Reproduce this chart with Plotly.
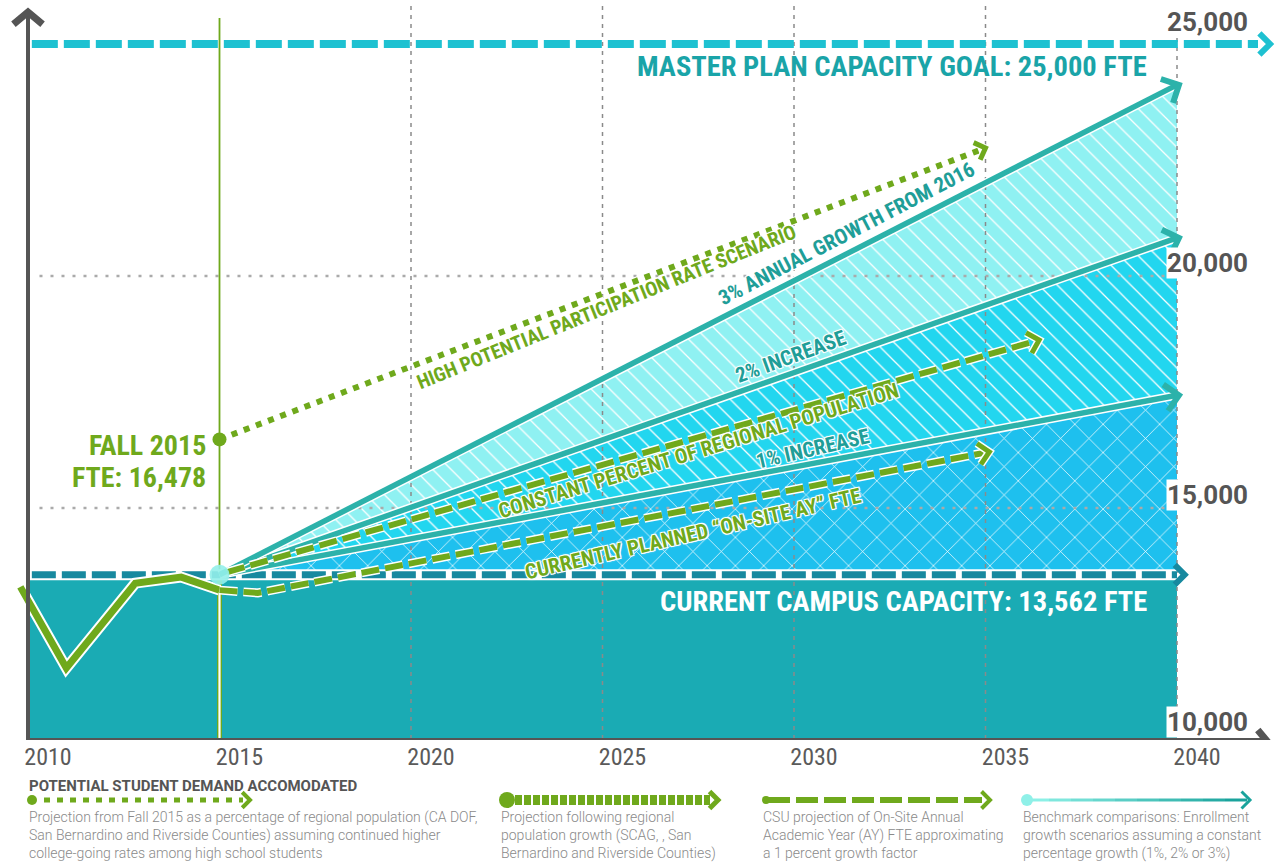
import math
import plotly.graph_objects as go

# ---------------- data ----------------
hist_years = [2009.8, 2011.0, 2012.8, 2014.0, 2015.0]
hist_fte = [13300, 11550, 13380, 13510, 13230]

planned_years = [2015.0, 2016.0, 2035.1]          # CSU projection, on-site AY FTE
planned_fte = [13230, 13170, 16210]

regional_years = [2015.2, 2036.4]                 # constant percent of regional population
regional_fte = [13620, 18620]

high_years = [2015.0, 2035.0]                     # high potential participation rate
high_fte = [16478, 22760]

bench_years = [2015.0, 2040.0]                    # benchmark growth scenarios
bench_1pct = [13562, 17430]
bench_2pct = [13562, 20820]
bench_3pct = [13562, 24120]

capacity_fte = 13562
goal_fte = 25000
fall_2015_fte = 16478

tick_years = [2010, 2015, 2020, 2025, 2030, 2035, 2040]
tick_labels = [str(y) for y in tick_years]
grid_years = [2020, 2025, 2030, 2035, 2040]
ytick_vals = [25000, 20000, 15000, 10000]
ytick_labels = ["25,000", "20,000", "15,000", "10,000"]
grid_fte = [15000, 20000]

# ---------------- geometry helpers ----------------
W, H = 1287, 864
PLOT_H = 740
X0_PX, PX_PER_YEAR = 28, 38.3
PX_PER_FTE = 0.0464


def X(px):
    return 2010 + (px - X0_PX) / PX_PER_YEAR


def Y(py):
    return 10000 + (PLOT_H - py) / PX_PER_FTE


def to_px(x, y):
    return X0_PX + (x - 2010) * PX_PER_YEAR, PLOT_H - (y - 10000) * PX_PER_FTE


def P(px):
    return px / W


def Q(py):
    return (PLOT_H - py) / PLOT_H


GREEN = "#6fa91c"
TEAL_BASE = "#1aabb4"
CAP_DASH = "#17899f"
GOAL = "#1ec1d1"
GOAL_TXT = "#1aa4a8"
BENCH = "#2cb2aa"
BENCH_TXT = "#1f9e98"
GRAY = "#555555"
NARROW = "Liberation Sans Narrow, Arial Narrow, Roboto Condensed, Roboto, sans-serif"
ROBOTO = "Roboto, Liberation Sans, sans-serif"

fig = go.Figure()


def line(xs, ys, color, width, dash="solid", outline=0):
    if outline:
        fig.add_trace(go.Scatter(x=xs, y=ys, mode="lines", hoverinfo="skip",
                                 line=dict(color="white", width=width + outline, dash=dash)))
    fig.add_trace(go.Scatter(x=xs, y=ys, mode="lines", hoverinfo="skip",
                             line=dict(color=color, width=width, dash=dash)))


def chevron(x_end, y_end, x_prev, y_prev, color, width, arm, spread=45, outline=0):
    px, py = to_px(x_end, y_end)
    qx, qy = to_px(x_prev, y_prev)
    ang = math.atan2(py - qy, px - qx)
    xs, ys = [], []
    for s in (spread, 0, -spread):
        if s == 0:
            xs.append(x_end); ys.append(y_end)
            continue
        a = ang + math.pi + math.radians(s)
        xs.append(X(px + arm * math.cos(a)))
        ys.append(Y(py + arm * math.sin(a)))
    line(xs, ys, color, width, outline=outline)


# ---------------- areas ----------------
fig.add_trace(go.Scatter(x=[2010, 2040], y=[capacity_fte, capacity_fte], mode="lines",
                         line=dict(width=0), fill="tozeroy", fillcolor=TEAL_BASE, hoverinfo="skip"))
fig.add_trace(go.Scatter(x=bench_years, y=[capacity_fte, capacity_fte], mode="lines",
                         line=dict(width=0), hoverinfo="skip"))
fig.add_trace(go.Scatter(x=bench_years, y=bench_1pct, mode="lines", line=dict(width=0),
                         fill="tonexty", fillcolor="#1ec0ee", hoverinfo="skip",
                         fillpattern=dict(shape="x", fgcolor="white", bgcolor="#1ec0ee",
                                          size=20, solidity=0.07, fillmode="replace")))
fig.add_trace(go.Scatter(x=bench_years, y=bench_2pct, mode="lines", line=dict(width=0),
                         fill="tonexty", fillcolor="#22d6ef", hoverinfo="skip",
                         fillpattern=dict(shape="\\", fgcolor="white", bgcolor="#22d6ef",
                                          size=13, solidity=0.1, fillmode="replace")))
fig.add_trace(go.Scatter(x=bench_years, y=bench_3pct, mode="lines", line=dict(width=0),
                         fill="tonexty", fillcolor="#8ff1f2", hoverinfo="skip",
                         fillpattern=dict(shape="\\", fgcolor="white", bgcolor="#8ff1f2",
                                          size=13, solidity=0.1, fillmode="replace")))

# ---------------- grid ----------------
gx, gy = [], []
for g in grid_years:
    gx += [g, g, None]
    gy += [Y(6) if g < 2040 else Y(20), 10000, None]
fig.add_trace(go.Scatter(x=gx, y=gy, mode="lines", hoverinfo="skip",
                         line=dict(color="#8a8a8a", width=1.5, dash="4px,5px")))
hx, hy = [], []
for g in grid_fte:
    hx += [2010.3, 2040, None]
    hy += [g, g, None]
fig.add_trace(go.Scatter(x=hx, y=hy, mode="lines", hoverinfo="skip",
                         line=dict(color="#aaaaaa", width=2.5, dash="3px,8px")))

# ---------------- 2015 marker line ----------------
line([2015, 2015], [Y(18), capacity_fte], GREEN, 1.8)
line([2015, 2015], [capacity_fte, 10000], GREEN, 5)
line([2015, 2015], [13300, 10000], "white", 2.2)

# ---------------- goal & capacity ----------------
line([2010.1, X(1258)], [goal_fte, goal_fte], GOAL, 8, dash="26px,6px")
chevron(X(1270), goal_fte, 2030, goal_fte, GOAL, 6, 15)

line([2010, 2040], [capacity_fte, capacity_fte], "white", 11)
line([2010.1, 2040], [capacity_fte, capacity_fte], CAP_DASH, 7, dash="24px,6px")
chevron(2040.2, capacity_fte, 2030, capacity_fte, CAP_DASH, 6, 14)

# ---------------- benchmark lines ----------------
for vals in (bench_1pct, bench_2pct, bench_3pct):
    line(bench_years, vals, BENCH, 5.5, outline=3)
for vals in (bench_1pct, bench_2pct, bench_3pct):
    chevron(bench_years[-1] + 0.05, vals[-1], bench_years[0], vals[0], BENCH, 6, 19)

# ---------------- green projections ----------------
line(hist_years, hist_fte, GREEN, 7, outline=4)
line(planned_years, planned_fte, GREEN, 6, dash="18px,6px", outline=3)
chevron(planned_years[-1], planned_fte[-1], planned_years[-2], planned_fte[-2], GREEN, 5, 15, outline=3)
line(regional_years, regional_fte, GREEN, 6, dash="18px,6px", outline=3)
chevron(regional_years[-1], regional_fte[-1], regional_years[0], regional_fte[0], GREEN, 5, 15, outline=3)
line(high_years, high_fte, GREEN, 6, dash="6px,7px", outline=2)
chevron(high_years[-1], high_fte[-1], high_years[0], high_fte[0], GREEN, 5, 13, outline=2)
fig.add_trace(go.Scatter(x=[high_years[0]], y=[fall_2015_fte], mode="markers", hoverinfo="skip",
                         marker=dict(color=GREEN, size=14, line=dict(width=0))))
fig.add_trace(go.Scatter(x=[bench_years[0]], y=[capacity_fte], mode="markers", hoverinfo="skip",
                         marker=dict(color="#93efea", size=20, opacity=0.9, line=dict(width=0))))

# ---------------- axes ----------------
line([2010, 2010], [10000, Y(14)], GRAY, 4)
chevron(2010, Y(12), 2010, 15000, GRAY, 7, 19, spread=50)
line([2010, X(1262)], [10000, 10000], GRAY, 4)
chevron(X(1270), 10000 - 100, 2030, 10000 - 100, GRAY, 7, 19, spread=50)

# ---------------- text ----------------
ann = []


def text(x, y, s, size, color, family=NARROW, weight="bold", xanchor="center",
         yanchor="middle", angle=0, xref="x", yref="y", bg=None, halo=False, align="center"):
    f = dict(size=size, color=color, family=family, weight=weight)
    if halo:
        f["shadow"] = "1px 1px 0 #fff, -1px -1px 0 #fff, 1px -1px 0 #fff, -1px 1px 0 #fff, 0 0 3px #fff"
    d = dict(x=x, y=y, xref=xref, yref=yref, text=s, showarrow=False, font=f,
             xanchor=xanchor, yanchor=yanchor, textangle=angle, align=align, borderpad=0)
    if bg:
        d["bgcolor"] = bg
    ann.append(d)


text(X(1148), Y(66), "MASTER PLAN CAPACITY GOAL: 25,000 FTE", 28.5, GOAL_TXT, xanchor="right")
text(X(1148), Y(601), "CURRENT CAMPUS CAPACITY: 13,562 FTE", 28.5, "white", xanchor="right")
text(X(207), Y(445), "FALL 2015", 28, GREEN, xanchor="right")
text(X(207), Y(477), "FTE: 16,478", 28, GREEN, xanchor="right")

ylab_py = [22, 263, 495, 722]
for v, lab, py in zip(ytick_vals, ytick_labels, ylab_py):
    text(X(1166), Y(py), lab, 26, GRAY, family=ROBOTO, xanchor="left", bg="white")

text(X(606), Y(307), "HIGH POTENTIAL PARTICIPATION RATE SCENARIO", 20, GREEN, angle=-22, halo=True)
text(X(846), Y(234), "3% ANNUAL GROWTH FROM 2016", 21, BENCH_TXT, angle=-27.5, halo=True)
text(X(790), Y(357), "2% INCREASE", 21, BENCH_TXT, angle=-20, halo=True)
text(X(698), Y(451), "CONSTANT PERCENT OF REGIONAL POPULATION", 21, GREEN, angle=-17, halo=True)
text(X(812), Y(449), "1% INCREASE", 21, BENCH_TXT, angle=-13, halo=True)
text(X(693), Y(534), "CURRENTLY PLANNED \u201cON-SITE AY\u201d FTE", 21, GREEN, angle=-13, halo=True)

# ---------------- legend (below the plot, paper coordinates) ----------------
text(P(28), Q(786), "POTENTIAL STUDENT DEMAND ACCOMODATED", 15, GRAY, family=ROBOTO,
     xanchor="left", xref="paper", yref="paper")

legend_text = [
    (28, "Projection from Fall 2015 as a percentage of regional population (CA DOF,<br>"
         "San Bernardino and Riverside Counties) assuming continued higher<br>"
         "college-going rates among high school students"),
    (500, "Projection following regional<br>population growth (SCAG, , San<br>"
          "Bernardino and Riverside Counties)"),
    (762, "CSU projection of On-Site Annual<br>Academic Year (AY) FTE approximating<br>"
          "a 1 percent growth factor"),
    (1022, "Benchmark comparisons: Enrollment<br>growth scenarios assuming a constant<br>"
           "percentage growth (1%, 2% or 3%)"),
]
for px, s in legend_text:
    text(P(px), Q(808), s, 14, "#8a8a8a", family=ROBOTO, weight=300, xanchor="left",
         yanchor="top", xref="paper", yref="paper", align="left")

shapes = []


def lg_line(x0, x1, color, width, dash="solid"):
    shapes.append(dict(type="line", xref="paper", yref="paper", x0=P(x0), x1=P(x1),
                       y0=Q(800), y1=Q(800), line=dict(color=color, width=width, dash=dash)))


def lg_dot(cx, r, color):
    shapes.append(dict(type="circle", xref="paper", yref="paper", x0=P(cx - r), x1=P(cx + r),
                       y0=Q(800 + r), y1=Q(800 - r), fillcolor=color, line=dict(width=0)))


def lg_chev(tx, color, arm, width):
    a = arm * math.cos(math.radians(45))
    path = "M {} {} L {} {} L {} {}".format(P(tx - a), Q(800 - a), P(tx), Q(800), P(tx - a), Q(800 + a))
    shapes.append(dict(type="path", xref="paper", yref="paper", path=path,
                       line=dict(color=color, width=width)))


lg_dot(32, 5, GREEN); lg_line(44, 243, GREEN, 5, "6px,7px"); lg_chev(250, GREEN, 11, 4)
lg_dot(507, 8, GREEN); lg_line(515, 710, GREEN, 10, "7px,2px"); lg_chev(718, GREEN, 12, 5)
lg_dot(766, 4, GREEN); lg_line(768, 982, GREEN, 6, "22px,6px"); lg_chev(990, GREEN, 12, 4)
seg = 10
for i in range(seg):
    t = i / (seg - 1)
    c = "rgb({},{},{})".format(int(140 + (26 - 140) * t), int(240 + (163 - 240) * t), int(230 + (156 - 230) * t))
    lg_line(1027 + i * 22, 1027 + (i + 1) * 22, c, 3)
lg_dot(1027, 6, "#8ff0e8"); lg_chev(1250, "#1aa39c", 12, 3)

fig.update_layout(
    width=W, height=H, margin=dict(l=0, r=0, t=0, b=H - PLOT_H, pad=0),
    paper_bgcolor="white", plot_bgcolor="white", showlegend=False,
    annotations=ann, shapes=shapes,
    xaxis=dict(range=[X(0), X(W)], showgrid=False, zeroline=False, showline=False,
               tickvals=tick_years, ticktext=tick_labels, ticks="", ticklabelshift=20,
               tickfont=dict(family=NARROW, size=24, color="#5a5a5a"), fixedrange=True),
    yaxis=dict(range=[Y(PLOT_H), Y(0)], showgrid=False, zeroline=False, showline=False,
               showticklabels=False, ticks="", fixedrange=True),
)

fig.write_html("out.html")
